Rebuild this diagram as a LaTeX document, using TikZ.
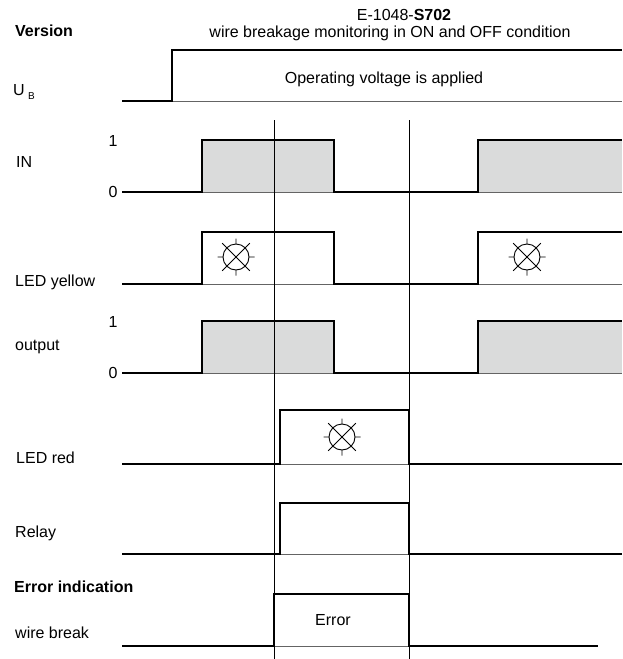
\documentclass[tikz,border=0pt]{standalone}
\usepackage{fontspec}
\setmainfont{Liberation Sans}
\definecolor{fillg}{RGB}{218,219,219}
\definecolor{baseg}{RGB}{100,100,100}
\begin{document}
\begin{tikzpicture}[x=1pt,y=-1pt,
  sig/.style={line width=2.4pt, line join=miter, line cap=butt},
  thinl/.style={line width=0.8pt, draw=baseg},
  vline/.style={line width=0.9pt, draw=black},
  lbl/.style={font=\fontsize{16}{19}\selectfont, inner sep=0pt, anchor=base west},
  blbl/.style={font=\fontsize{16}{19}\selectfont\bfseries, inner sep=0pt, anchor=base west},
  ctxt/.style={font=\fontsize{16}{19}\selectfont, inner sep=0pt, anchor=base},
  lamp/.pic={
    \draw[line width=0.9pt] (0,0) circle (13);
    \draw[line width=0.9pt] (-13.8,-13.8)--(13.8,13.8) (-13.8,13.8)--(13.8,-13.8)
      (0,13)--(0,18.5) (0,-13)--(0,-18.5) (13,0)--(18.5,0) (-13,0)--(-18.5,0);
  }]
\useasboundingbox (0,0) rectangle (622,659);

% titles
\node[blbl] (version) at (15,36.7) {Version};
\node[ctxt] (t1) at (404,20.7) {E-1048-\textbf{S702}};
\node[ctxt] (t2) at (390,37.7) {wire breakage monitoring in ON and OFF condition};

% gray fills
\fill[fillg] (202,140) rectangle (334,192);
\fill[fillg] (478,140) rectangle (622,192);
\fill[fillg] (202,321) rectangle (334,373);
\fill[fillg] (478,321) rectangle (622,373);

% thin baselines
\draw[thinl] (172,101) -- (622,101);
\draw[thinl] (202,192) -- (622,192);
\draw[thinl] (202,284) -- (622,284);
\draw[thinl] (202,373) -- (622,373);
\draw[thinl] (280,464) -- (409,464);
\draw[thinl] (280,554) -- (409,554);
\draw[thinl] (274,646) -- (409,646);

% vertical markers
\coordinate (va) at (274,120);
\coordinate (vb) at (274,659);
\coordinate (vc) at (409,120);
\coordinate (vd) at (409,659);
\draw[vline] (va) -- (vb);
\draw[vline] (vc) -- (vd);

% U_B
\node[lbl] (ub) at (13,95.7) {U};
\node[font=\fontsize{10}{12}\selectfont, inner sep=0pt, anchor=base west] (ubsub) at (28,99.6) {B};
\draw[sig] (122,101) -- (172,101) -- (172,50) -- (622,50);
\node[ctxt] (opv) at (384,83.7) {Operating voltage is applied};

% IN
\node[lbl] (lin) at (16,167.4) {IN};
\node[ctxt] (in1) at (113,146.4) {1};
\node[ctxt] (in0) at (113,197.4) {0};
\draw[sig] (122,192) -| (202,140) -| (334,192) -| (478,140) -- (622,140);

% LED yellow
\node[lbl] (lyel) at (15,286.7) {LED yellow};
\draw[sig] (122,284) -| (202,232) -| (334,284) -| (478,232) -- (622,232);
\pic at (236,257) {lamp};
\pic at (527,257) {lamp};

% output
\node[ctxt] (out1) at (113,327.4) {1};
\node[lbl] (lout) at (15,350.7) {output};
\node[ctxt] (out0) at (113,378.4) {0};
\draw[sig] (122,373) -| (202,321) -| (334,373) -| (478,321) -- (622,321);

% LED red
\node[lbl] (lred) at (16,463.7) {LED red};
\draw[sig] (122,464) -| (280,410) -| (409,464) -- (622,464);
\pic at (342,437) {lamp};

% Relay
\node[lbl] (lrel) at (15,537.4) {Relay};
\draw[sig] (122,554) -| (280,503) -| (409,554) -- (622,554);

% Error indication
\node[blbl] (lerr) at (14,592.4) {Error indication};
\node[lbl] (lwb) at (15,638.4) {wire break};
\draw[sig] (122,646) -| (274,594) -| (409,646) -- (598,646);
\node[ctxt] (errt) at (333,625.7) {Error};
\end{tikzpicture}
\end{document}
